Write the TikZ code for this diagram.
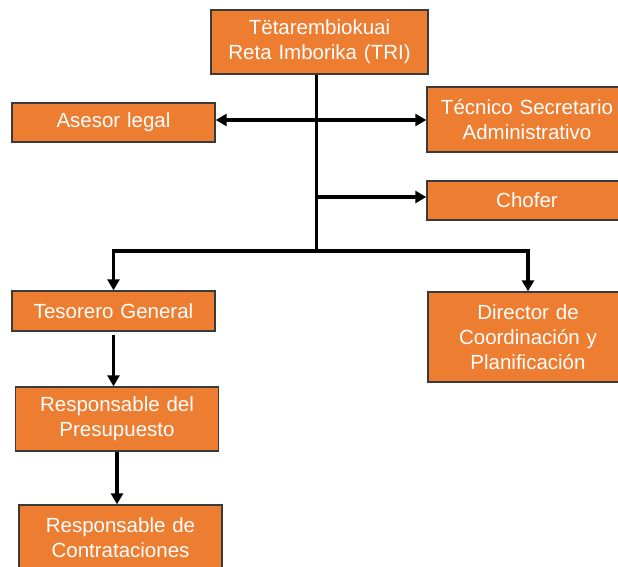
\documentclass[tikz,border=0pt]{standalone}
\usepackage{fontspec}
\setmainfont{Liberation Sans}
\usetikzlibrary{arrows.meta,positioning}
\definecolor{boxorange}{HTML}{ED7D31}
\definecolor{boxline}{HTML}{3A3A3A}
\tikzset{
  office/.style = {shape=rectangle, draw=boxline, line width=1.4pt,
                   fill=boxorange, text=white, align=center,
                   inner sep=0pt, minimum height=39pt,
                   minimum width=203pt, text width=196pt,
                   font=\fontsize{20.5pt}{25pt}\selectfont},
  root/.style     = {
    office,
    minimum width=217pt,
    minimum height=64pt},
  side/.style     = {
    office,
    minimum width=200pt, text width=196pt
    },
  link/.style     = {
    line width=3.2pt, black,
    -{Triangle[length=11pt,width=12pt]}
    }
}
\begin{document}
\begin{tikzpicture}[x=1pt, y=-1pt]
    \useasboundingbox (0,0) rectangle (618,567);
    % nodes
    \node [root] (tri) at (319.5,42) {Tëtarembiokuai\\Reta Imborika (TRI)};
    \node [office] (asesor) at (113.5,122.5) {Asesor legal};
    \node [side, minimum height=65pt] (tecnico) at (527,119.5) {Técnico Secretario\\Administrativo};
    \node [side] (chofer) at (527,200.5) {Chofer};
    \node [office, minimum height=40pt] (tesorero) at (113.5,311) {Tesorero General};
    \node [side, minimum height=90pt] (director) at (528,337) {Director de\\Coordinación y\\Planificación};
    \node [office, minimum height=64pt] (presup) at (117,419) {Responsable del\\Presupuesto};
    \node [office, minimum height=65pt] (contrat) at (120.5,537.5) {Responsable de\\Contrataciones};
    % trunk
    \coordinate (ja) at (316.7,120);
    \coordinate (jc) at (316.7,197);
    \coordinate (jb) at (316.7,251);
    \draw [link, -] (tri.south -| jb) -- (jb);
    \draw [link, {Triangle[length=11pt,width=12pt]}-{Triangle[length=11pt,width=12pt]}]
        (asesor.east |- ja) -- (tecnico.west |- ja);
    \draw [link] (jc) -- (chofer.west |- jc);
    \draw [link] (jb) -| (tesorero.north);
    \draw [link] (jb) -| (director.north);
    \draw [link, shorten <=3pt] (tesorero.south) -- (tesorero.south |- presup.north);
    \draw [link] (presup.south) -- (presup.south |- contrat.north);
\end{tikzpicture}
\end{document}
